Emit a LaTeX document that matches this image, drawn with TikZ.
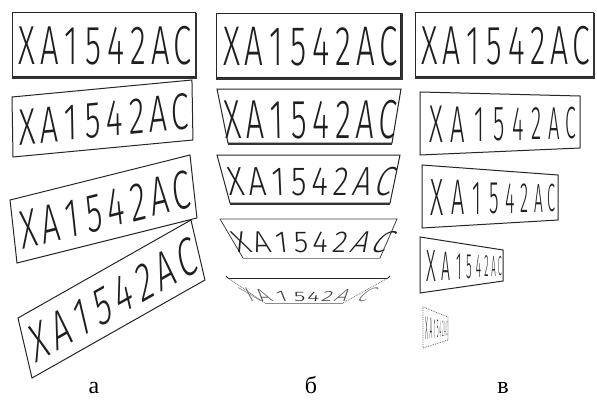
\documentclass[tikz,border=0pt]{standalone}
\usepackage{fontspec}
\IfFontExistsTF{Fira Sans Book}
  {\newfontfamily\platefont{Fira Sans Book}\def\pfs{55}\def\pxs{0.6}}
  {\IfFontExistsTF{Fira Sans Light}
    {\newfontfamily\platefont{Fira Sans Light}\def\pfs{55}\def\pxs{0.6}}
    {\newfontfamily\platefont{Liberation Sans}\def\pfs{53}\def\pxs{0.57}}}
\newfontfamily\lblfont{Liberation Serif}
\tikzset{
  plate/.style={draw=black!85, line width=1pt, line join=miter},
  heavy/.style={draw=black!80, line width=2pt},
  thinedge/.style={draw=black!75, line width=0.8pt},
  dotedge/.style={draw=black!60, line width=0.8pt, densely dotted},
  ch/.style={inner sep=0pt, outer sep=0pt, anchor=base, transform shape, text=black!88,
    font=\platefont\fontsize{\pfs}{\pfs}\selectfont},
  lbl/.style={font=\lblfont\fontsize{24}{24}\selectfont, anchor=base, inner sep=0pt, text=black},
}
% eight characters of a flat plate in local coordinates (184 x 64)
\newcommand\platetext[1]{%
  \foreach \c [count=\i from 0] in {X,A,1,5,4,2,A,C}
    \node[ch, shift={(15.5+22.3*\i,12)}, xscale=\pxs] (#1-\i) at (0,0) {\c};}
% plate turned about a vertical axis (projective foreshortening)
\newcommand\cplate[9]{%
  \draw[#9] (#2,#4) -- (#3,#6) -- (#3,#7) -- (#2,#5) -- cycle;
  \pgfmathsetmacro\pr{(#7-#6)/(#5-#4)}
  \foreach \c [count=\i from 0] in {X,A,1,5,4,2,A,C}{
    \pgfmathsetmacro\pu{(15.5+22.3*\i)/184}
    \pgfmathsetmacro\pD{(1-\pu)*\pr+\pu}
    \pgfmathsetmacro\cpx{((1-\pu)*\pr*#2+\pu*#3)/\pD}
    \pgfmathsetmacro\cpy{((1-\pu)*\pr*(#4+0.1875*(#5-#4))+\pu*(#6+0.1875*(#7-#6)))/\pD}
    \pgfmathsetmacro\csy{(#5-#4)/64*\pr/\pD}
    \pgfmathsetmacro\csx{#8*\pxs*(#3-#2)*\pr/(\pD*\pD*184)}
    \node[ch, shift={(\cpx,\cpy)}, xscale=\csx, yscale=\csy] (#1-\i) at (0,0) {\c};
  }
}
% plate tilted about a horizontal axis: explicit positions and slants
\newcommand\bchars[7]{% #1 name, #2 x0, #3 pitch, #4 baseline, #5 rel. xscale, #6 yscale, #7 slants
  \foreach \c/\s [count=\i from 0] in {#7}
    \node[ch, shift={(#2+#3*\i,#4)}, xslant=\s, xscale=#5*\pxs, yscale=#6] (#1-\i) at (0,0) {\c};}

\begin{document}
\begin{tikzpicture}[x=1pt,y=1pt]
\useasboundingbox (0,0) rectangle (597,408);
\fill[white] (0,0) rectangle (597,408);

% ---------- column a: rotated plates ----------
\begin{scope}[cm={0.9946,0,0,1,(12,331)}]
  \draw[plate] (0,0) rectangle (184,64);
  \draw[heavy] (0,-0.6) -- (184.6,-0.6) -- (184.6,64);
  \platetext{a1}
\end{scope}
\begin{scope}[cm={0.978,0.0924,-0.0156,0.9375,(13,251)}]
  \draw[plate] (0,0) rectangle (184,64);
  \platetext{a2}
\end{scope}
\begin{scope}[cm={0.978,0.2446,-0.109,0.984,(17,145)}]
  \draw[plate] (0,0) rectangle (184,64);
  \platetext{a3}
\end{scope}
\begin{scope}[cm={0.940,0.5326,-0.219,0.9375,(32,30)}]
  \draw[plate] (0,0) rectangle (184,64);
  \platetext{a4}
\end{scope}

% ---------- column b: plates tilted back ----------
\begin{scope}[cm={1.0054,0,0,1.0156,(216,330)}]
  \draw[plate] (0,0) rectangle (184,64);
  \draw[heavy] (0,-0.6) -- (184.6,-0.6) -- (184.6,64);
  \platetext{b1}
\end{scope}

\draw[plate] (217,319) -- (401,319) -- (392,265) -- (228,265) -- cycle;
\draw[heavy] (228,264.5) -- (392,264.5);
\bchars{b2}{233.5}{21.9}{270}{0.98}{1}{X/-0.06,A/-0.04,1/-0.02,5/-0.01,4/0.01,2/0.02,A/0.05,C/0.08}

\draw[plate] (217,253) -- (400,253) -- (390,205) -- (230,205) -- cycle;
\draw[heavy] (230,204.5) -- (390,204.5);
\bchars{b3}{238}{20.4}{213}{0.96}{0.74}{X/-0.12,A/-0.08,1/-0.04,5/0,4/0.04,2/0.1,A/0.25,C/0.35}

\draw[thinedge] (220,189) -- (397,189) -- (380,150);
\draw[thinedge] (220,189) -- (243,150);
\draw[draw=black!45, line width=1pt] (243,150) -- (380,150);
\bchars{b4}{245.5}{18.6}{156}{0.9}{0.55}{X/-0.45,A/-0.3,1/-0.12,5/-0.03,4/0.05,2/0.2,A/0.5,C/0.75}

\draw[plate] (228,130) -- (388,130);
\draw[plate] (228,130) -- (226,132);
\draw[plate] (388,130) -- (390,132);
\draw[dotedge] (228,130) -- (265,105);
\draw[dotedge] (388,130) -- (343,105);
\draw[draw=black!45, line width=0.9pt] (265,105) -- (343,105);
\foreach \c/\x/\s/\ys/\xs/\col [count=\i from 0] in
  {X/257/-1.1/0.36/0.6/55, A/268/-0.8/0.32/0.65/65, 1/284/-0.4/0.28/0.7/75, 5/300/-0.05/0.25/0.72/85,
   4/313/0.1/0.25/0.72/85, 2/326/0.35/0.27/0.7/75, A/339/0.75/0.32/0.65/65, C/360/1.1/0.36/0.6/55}
  \node[ch, text=black!\col, shift={(\x,107)}, xslant=\s, xscale=\xs*\pxs, yscale=\ys] (b5-\i) at (0,0) {\c};

% ---------- column v: plates turned sideways ----------
\cplate{c1}{415}{593}{331}{395}{331}{395}{1}{plate}
\draw[heavy] (415,330.4) -- (593.6,330.4) -- (593.6,395);
\cplate{c2}{420}{580}{253}{316}{260}{312}{0.8}{plate}
\cplate{c3}{422}{558}{180}{243}{188}{233}{0.8}{plate}
\cplate{c4}{420}{503}{115}{171}{127}{158}{0.8}{plate}
\cplate{c5}{423}{448}{60}{101}{68}{91}{0.8}{dotedge}

% ---------- labels ----------
\node[lbl] (la) at (94,15) {а};
\node[lbl] (lb) at (311,15) {б};
\node[lbl] (lv) at (503,15) {в};
\end{tikzpicture}
\end{document}
